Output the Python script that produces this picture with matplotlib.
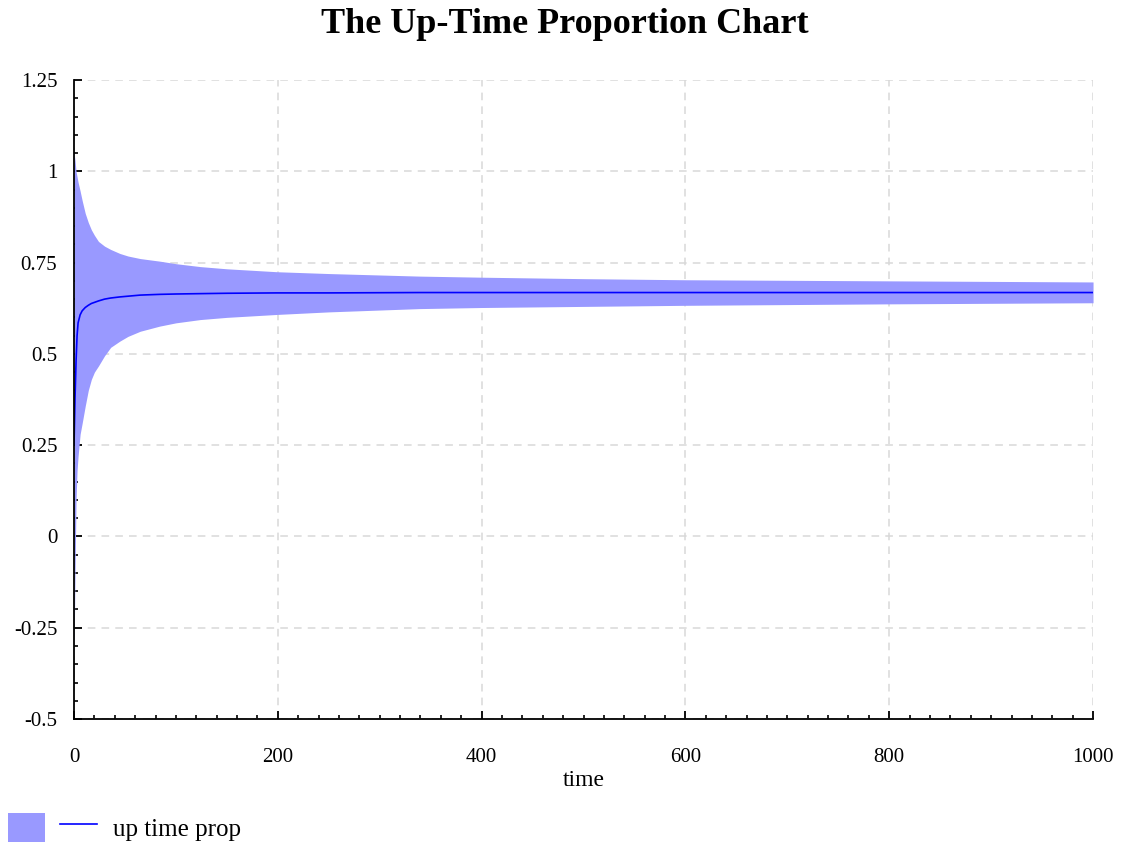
import matplotlib
matplotlib.use("Agg")
import matplotlib.pyplot as plt
from matplotlib.legend_handler import HandlerTuple
from matplotlib.ticker import MultipleLocator

plt.rcParams['font.family'] = ['Liberation Serif', 'DejaVu Serif']

# data
time = [0, 1, 2, 3, 4, 6, 8, 11, 14, 17, 20, 24, 30, 36, 45, 53, 65, 84, 100, 124, 150, 199, 250, 339, 400, 500, 600, 800, 1000]
mean = [0.25, 0.38, 0.48, 0.55, 0.585, 0.607, 0.618, 0.627, 0.633, 0.638, 0.641, 0.645, 0.650, 0.653, 0.656, 0.658, 0.661, 0.663, 0.664, 0.665, 0.666, 0.667, 0.667, 0.668, 0.668, 0.668, 0.668, 0.668, 0.668]
upper = [1.05, 1.03, 1.0, 0.985, 0.97, 0.946, 0.92, 0.885, 0.86, 0.84, 0.825, 0.808, 0.795, 0.786, 0.775, 0.768, 0.761, 0.754, 0.747, 0.739, 0.733, 0.725, 0.72, 0.713, 0.71, 0.706, 0.703, 0.700, 0.697]
lower = [-0.33, -0.1, 0.1, 0.18, 0.22, 0.28, 0.31, 0.357, 0.40, 0.43, 0.45, 0.467, 0.495, 0.518, 0.535, 0.548, 0.562, 0.576, 0.585, 0.594, 0.60, 0.608, 0.615, 0.624, 0.627, 0.630, 0.633, 0.637, 0.640]
series_label = "up time prop"

fig = plt.figure(figsize=(11.3, 8.46), dpi=100)
ax = fig.add_axes([0.0655, 0.1501, 0.9018, 0.7553])

band = ax.fill_between(time, lower, upper, color='#9999ff', linewidth=0)
line, = ax.plot(time, mean, color='#0000ff', linewidth=1.2)

ax.set_xlim(0, 1000)
ax.set_ylim(-0.5, 1.25)
ax.xaxis.set_major_locator(MultipleLocator(200))
ax.xaxis.set_minor_locator(MultipleLocator(20))
ax.yaxis.set_minor_locator(MultipleLocator(0.05))
ax.set_yticks([-0.5, -0.25, 0, 0.25, 0.5, 0.75, 1, 1.25])
ax.set_yticklabels(['-0.5', '-0.25', '0', '0.25', '0.5', '0.75', '1', '1.25'])

ax.grid(True, which='major', color='#d9d9d9', linestyle=(0, (5, 4)), linewidth=1.1)
ax.set_axisbelow(True)
for s in ['top', 'right']:
    ax.spines[s].set_visible(False)
for s in ['left', 'bottom']:
    ax.spines[s].set_linewidth(1.3)
ax.tick_params(which='major', direction='in', length=5.8, width=1.3, labelsize=15)
ax.tick_params(which='minor', direction='in', length=3, width=1.2)
ax.tick_params(axis='x', which='major', pad=21)
ax.tick_params(axis='y', which='major', pad=12)

ax.set_xlabel('time', fontsize=17, labelpad=2)
fig.suptitle('The Up-Time Proportion Chart', fontsize=26, fontweight='bold', y=0.991)

fig.legend(handles=[(band, line)], labels=[series_label],
           handler_map={tuple: HandlerTuple(ndivide=None, pad=0.6)},
           loc='lower left', bbox_to_anchor=(8 / 1130, 4 / 846), frameon=False,
           fontsize=18, handlelength=3.56, handleheight=1.41, handletextpad=0.64,
           borderpad=0, borderaxespad=0)

fig.savefig('out.png', dpi=100)
